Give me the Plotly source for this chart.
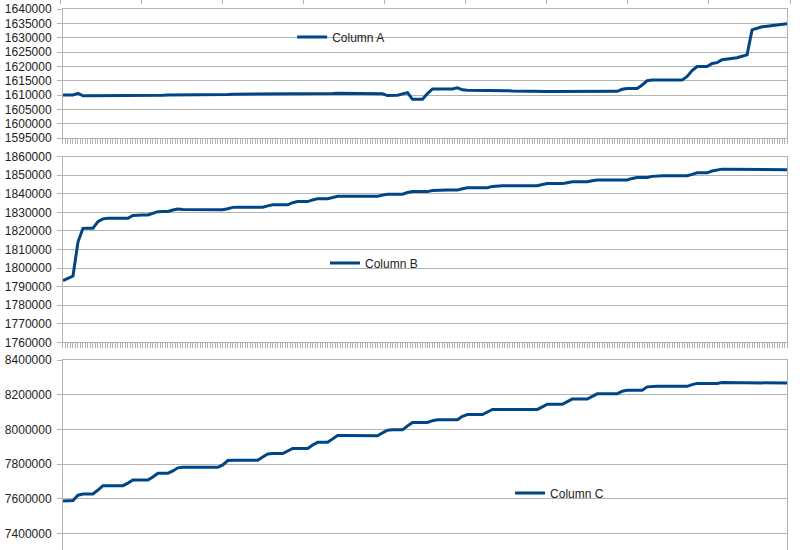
import plotly.graph_objects as go

# ---- data (one value per category) ----
categories = list(range(146))

column_a = [
    1610000, 1610000, 1610000, 1610600, 1609700, 1609700, 1609700, 1609700, 1609700, 1609700,
    1609700, 1609800, 1609800, 1609800, 1609800, 1609800, 1609800, 1609800, 1609900, 1609900,
    1609900, 1610000, 1610000, 1610000, 1610000, 1610100, 1610100, 1610100, 1610200, 1610200,
    1610200, 1610200, 1610200, 1610200, 1610300, 1610300, 1610300, 1610300, 1610300, 1610300,
    1610300, 1610300, 1610400, 1610400, 1610400, 1610400, 1610400, 1610400, 1610400, 1610400,
    1610400, 1610500, 1610500, 1610500, 1610500, 1610600, 1610600, 1610600, 1610600, 1610500,
    1610500, 1610500, 1610500, 1610400, 1610400, 1609800, 1609900, 1609900, 1610400, 1610800,
    1608500, 1608500, 1608500, 1610500, 1612100, 1612100, 1612100, 1612100, 1612100, 1612500,
    1611800, 1611700, 1611700, 1611600, 1611600, 1611600, 1611500, 1611500, 1611500, 1611500,
    1611400, 1611300, 1611300, 1611300, 1611300, 1611200, 1611200, 1611200, 1611200, 1611200,
    1611200, 1611200, 1611100, 1611100, 1611100, 1611100, 1611100, 1611100, 1611100, 1611100,
    1611100, 1611300, 1612000, 1612300, 1612300, 1612300, 1613500, 1615000, 1615200, 1615200,
    1615200, 1615200, 1615200, 1615200, 1615200, 1616500, 1618500, 1619900, 1619900, 1619900,
    1621000, 1621300, 1622300, 1622500, 1622700, 1623000, 1623500, 1624000, 1632700, 1633200,
    1633800, 1634000, 1634200, 1634400, 1634600, 1634900,
]

column_b = [
    1793200, 1794300, 1795700, 1814000, 1821400, 1821500, 1821500, 1825000, 1826500, 1826800,
    1826800, 1826800, 1826800, 1826800, 1828300, 1828600, 1828600, 1828600, 1829600, 1830400,
    1830500, 1830500, 1831300, 1831800, 1831600, 1831600, 1831600, 1831500, 1831500, 1831500,
    1831400, 1831400, 1831400, 1832000, 1832700, 1832800, 1832800, 1832800, 1832800, 1832800,
    1832800, 1833500, 1834100, 1834100, 1834100, 1834100, 1835200, 1835800, 1835800, 1835800,
    1836700, 1837400, 1837400, 1837400, 1838000, 1838700, 1838700, 1838700, 1838700, 1838700,
    1838700, 1838700, 1838700, 1838700, 1839300, 1839800, 1839800, 1839800, 1839800, 1840700,
    1841200, 1841200, 1841200, 1841200, 1841800, 1842000, 1842000, 1842000, 1842000, 1842000,
    1842700, 1843300, 1843300, 1843300, 1843300, 1843300, 1844000, 1844400, 1844400, 1844400,
    1844400, 1844400, 1844400, 1844400, 1844400, 1844400, 1845000, 1845500, 1845500, 1845500,
    1845500, 1846000, 1846500, 1846500, 1846500, 1846500, 1847000, 1847500, 1847500, 1847500,
    1847500, 1847500, 1847500, 1847500, 1848300, 1848800, 1848800, 1848800, 1849400, 1849800,
    1849800, 1849800, 1849800, 1849800, 1849800, 1849800, 1850500, 1851300, 1851300, 1851300,
    1852300, 1853000, 1853300, 1853300, 1853300, 1853300, 1853300, 1853300, 1853300, 1853200,
    1853200, 1853200, 1853100, 1853100, 1853000, 1853000,
]

column_c = [
    7587000, 7587000, 7590000, 7620000, 7627000, 7627000, 7627000, 7650000, 7675000, 7675000,
    7675000, 7675000, 7675000, 7690000, 7708000, 7708000, 7708000, 7708000, 7725000, 7746000,
    7746000, 7746000, 7760000, 7778000, 7781000, 7781000, 7781000, 7781000, 7781000, 7781000,
    7781000, 7781000, 7795000, 7820000, 7822000, 7822000, 7822000, 7822000, 7822000, 7822000,
    7840000, 7858000, 7860000, 7860000, 7860000, 7875000, 7890000, 7890000, 7890000, 7890000,
    7910000, 7925000, 7925000, 7925000, 7945000, 7965000, 7965000, 7965000, 7965000, 7964000,
    7964000, 7963000, 7963000, 7963000, 7980000, 7995000, 7997000, 7997000, 7997000, 8020000,
    8040000, 8040000, 8040000, 8040000, 8050000, 8055000, 8055000, 8055000, 8055000, 8055000,
    8075000, 8085000, 8085000, 8085000, 8085000, 8100000, 8115000, 8115000, 8115000, 8115000,
    8115000, 8115000, 8115000, 8115000, 8115000, 8115000, 8130000, 8145000, 8145000, 8145000,
    8145000, 8160000, 8175000, 8175000, 8175000, 8175000, 8190000, 8205000, 8205000, 8205000,
    8205000, 8205000, 8220000, 8225000, 8225000, 8225000, 8225000, 8245000, 8248000, 8248000,
    8248000, 8248000, 8248000, 8248000, 8248000, 8248000, 8258000, 8265000, 8265000, 8265000,
    8265000, 8265000, 8270000, 8270000, 8270000, 8270000, 8270000, 8269000, 8268000, 8268000,
    8270000, 8270000, 8270000, 8269000, 8268000, 8267000,
]

series_names = ["Column A", "Column B", "Column C"]
top_strip_ticks = list(range(10))

# ---- styling ----
LINE = "#004586"
GRID = "#b3b3b3"
FONT = dict(family="Liberation Sans, Arial, sans-serif", size=12, color="#222222")

fig = go.Figure()

for idx, (name, vals) in enumerate(zip(series_names, [column_a, column_b, column_c])):
    n = "" if idx == 0 else str(idx + 1)
    fig.add_trace(go.Scatter(
        x=categories, y=vals, mode="lines", name=name,
        line=dict(color=LINE, width=3),
        xaxis="x" + n, yaxis="y" + n,
        legend="legend" + n,
        showlegend=True,
    ))

# empty trace to hold the little tick strip at the very top
fig.add_trace(go.Scatter(x=top_strip_ticks, y=[None] * len(top_strip_ticks),
                         xaxis="x4", yaxis="y4", showlegend=False, hoverinfo="skip"))

xdom = [0.0041, 0.9959]
xcommon = dict(domain=xdom, range=[0, len(categories) - 1], showgrid=False, zeroline=False,
               showline=True, linecolor=GRID, linewidth=1, mirror=True, automargin=False,
               ticks="outside", ticklen=5, tickcolor=GRID, tickwidth=1,
               tickmode="linear", tick0=0, dtick=0.5, showticklabels=False)
ycommon = dict(showgrid=True, gridcolor=GRID, gridwidth=1, zeroline=False,
               showline=True, linecolor=GRID, linewidth=1, mirror=True, automargin=False,
               ticks="outside", ticklen=5, tickcolor=GRID, tickwidth=1,
               tickformat="d", tickfont=FONT, ticklabelstandoff=3, tickmode="linear")

fig.update_layout(
    width=800, height=550,
    margin=dict(l=60, r=10, t=5, b=0, pad=0, autoexpand=False),
    paper_bgcolor="white", plot_bgcolor="white",
    font=FONT,
    xaxis=dict(anchor="y", **xcommon),
    xaxis2=dict(anchor="y2", **xcommon),
    xaxis3=dict(anchor="y3", **xcommon),
    yaxis=dict(anchor="x", domain=[0.75596, 0.99266], range=[1595000, 1640000],
               tick0=1595000, dtick=5000, **ycommon),
    yaxis2=dict(anchor="x2", domain=[0.38110, 0.72165], range=[1760000, 1860000],
                tick0=1760000, dtick=10000, **ycommon),
    yaxis3=dict(anchor="x3", domain=[0.0, 0.34862], range=[7304000, 8400000],
                tick0=7400000, dtick=200000, **ycommon),
    xaxis4=dict(anchor="y4", domain=[0, 1], range=[0, 9], side="top", automargin=False,
                showgrid=False, zeroline=False, showline=False,
                ticks="outside", ticklen=5, tickcolor=GRID, tickwidth=1,
                tickmode="linear", tick0=0, dtick=1, showticklabels=False),
    yaxis4=dict(anchor="x4", domain=[0.999, 1.0], visible=False),
    legend=dict(x=0.318, y=0.9413, xanchor="left", yanchor="middle",
                bgcolor="rgba(0,0,0,0)", font=FONT),
    legend2=dict(x=0.363, y=0.5266, xanchor="left", yanchor="middle",
                 bgcolor="rgba(0,0,0,0)", font=FONT),
    legend3=dict(x=0.6165, y=0.1046, xanchor="left", yanchor="middle",
                 bgcolor="rgba(0,0,0,0)", font=FONT),
    showlegend=True,
)

fig.write_html("out.html",
               config={"displayModeBar": False},
               post_script="document.body.style.margin='0';document.body.style.overflow='hidden';")
